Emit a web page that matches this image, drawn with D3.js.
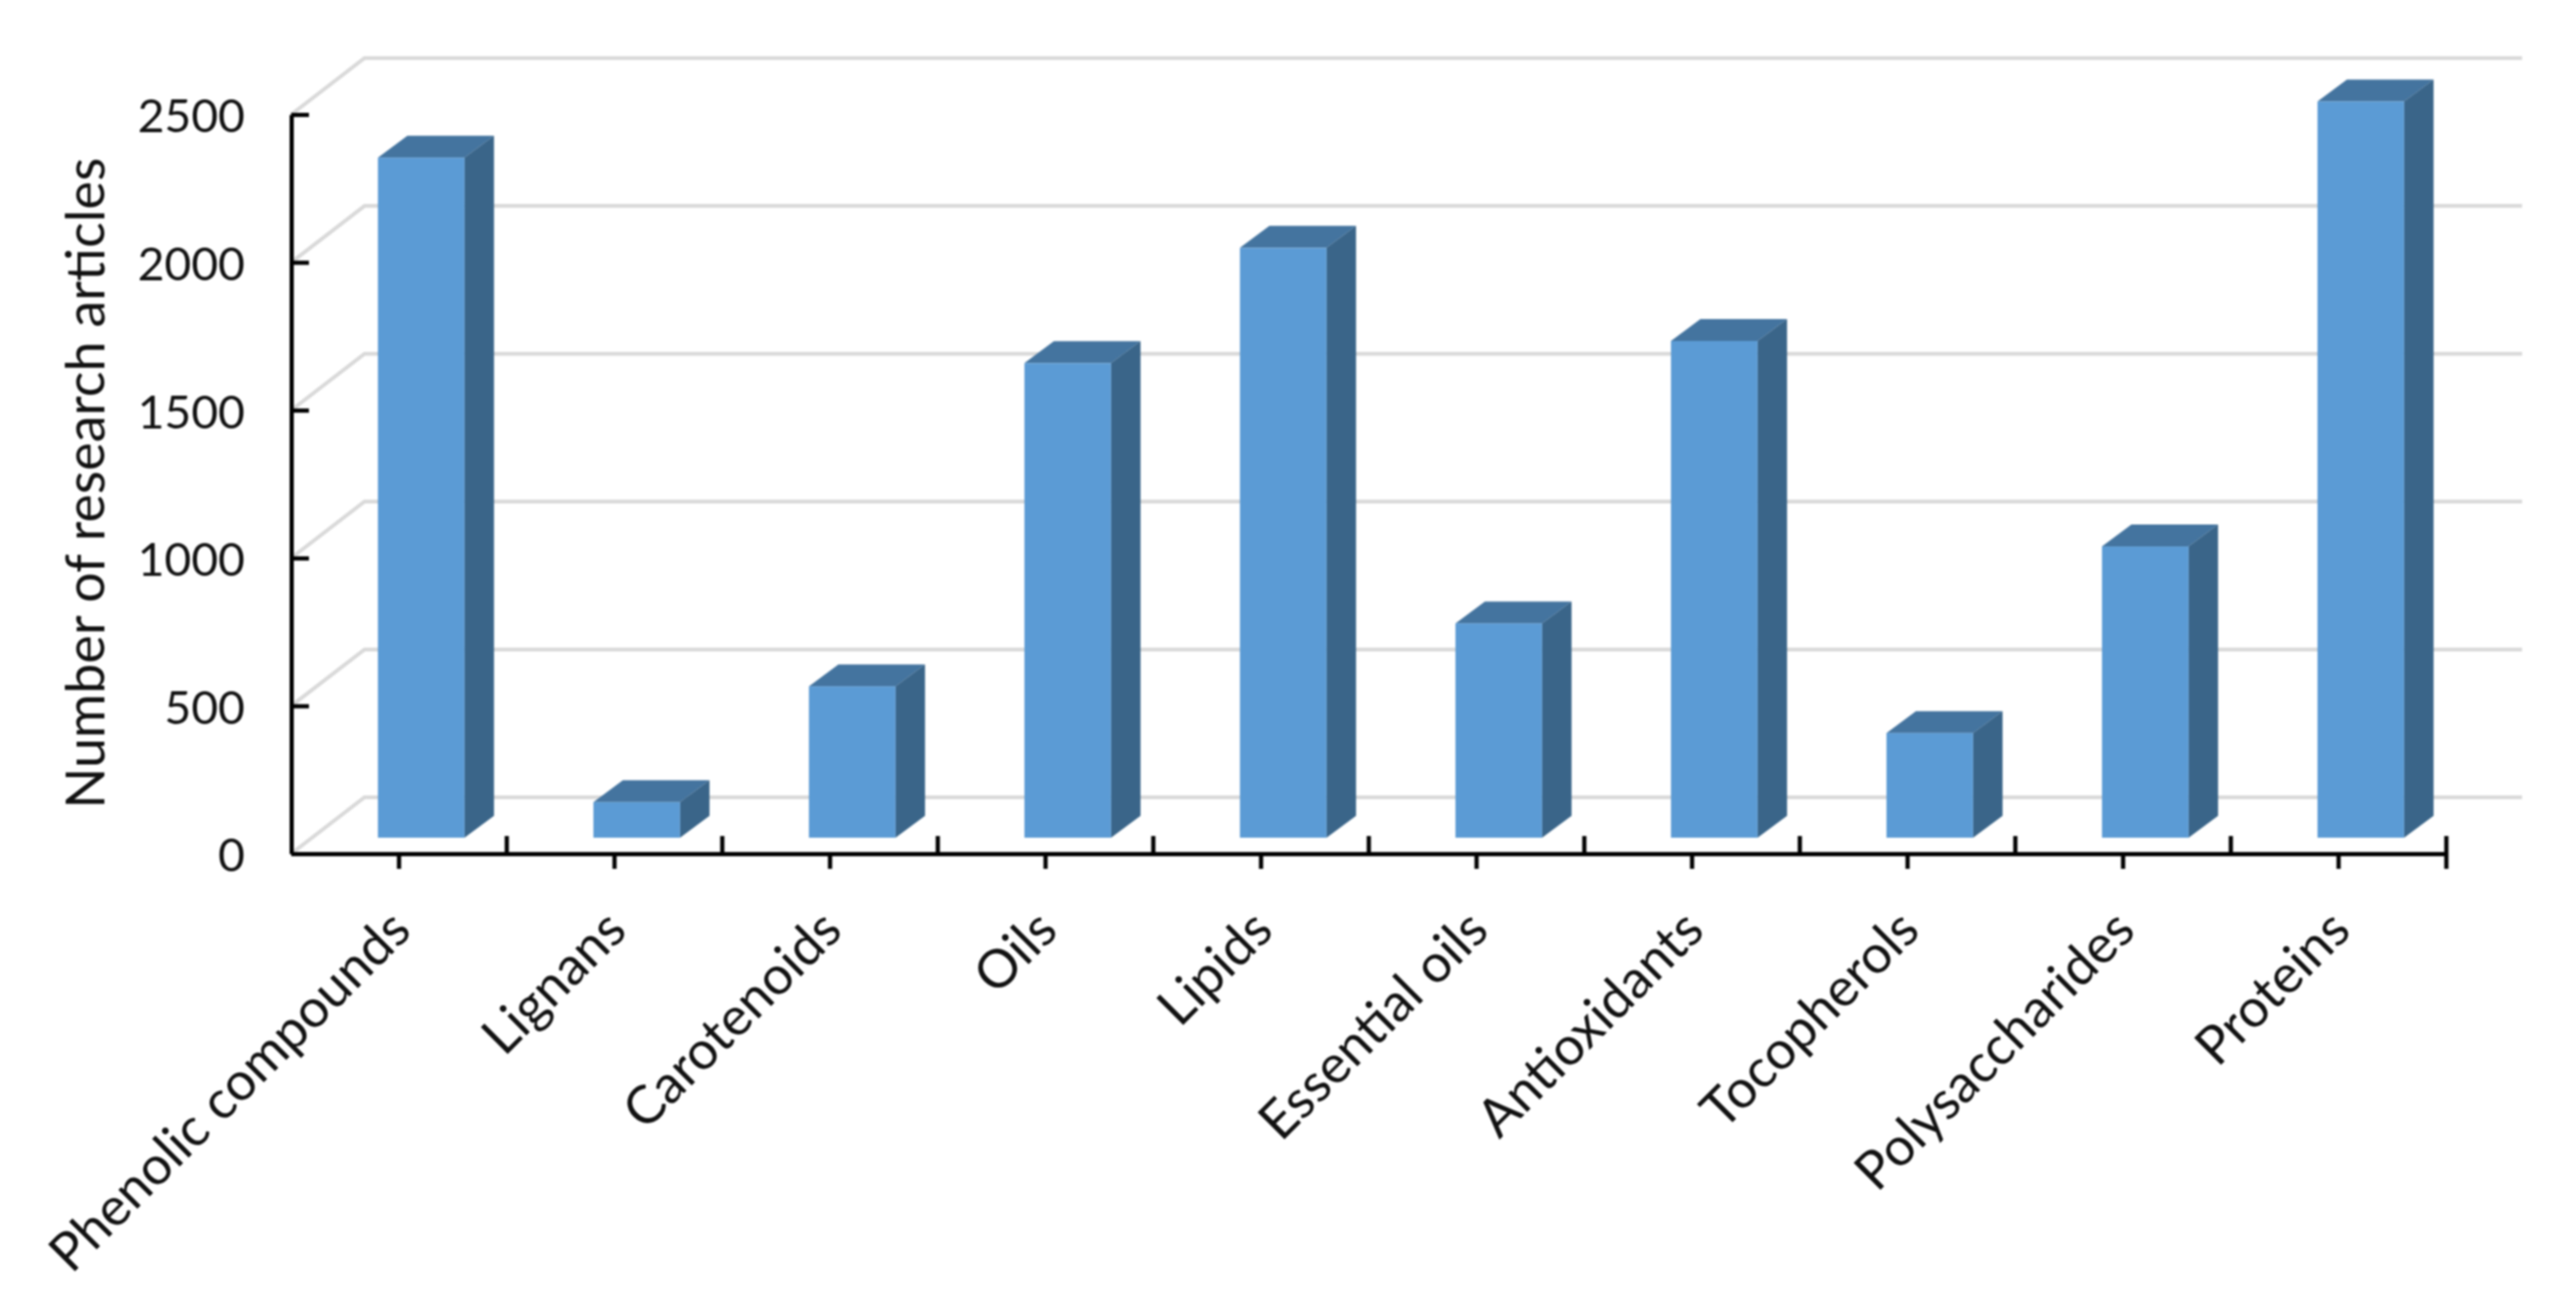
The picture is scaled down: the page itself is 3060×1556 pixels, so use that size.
<!DOCTYPE html>
<meta charset="utf-8">
<style>
html, body { margin: 0; background: #fff; }
svg { display: block; filter: blur(0.8px); }
text { font-family: Lato, "Open Sans", sans-serif; fill: #111; }
.y .tick text { font-size: 55px; }
.x .tick text { font-size: 63px; }
.title { font-size: 64px; }
.grid { stroke: #d9d9d9; stroke-width: 4.5px; fill: none; }
.axis path, .axis line, .edge { stroke: #000; stroke-width: 5px; fill: none; }
</style>
<svg id="chart" width="3060" height="1556"></svg>
<script src="https://cdn.jsdelivr.net/npm/d3@7"></script>
<script>
var categories = ["Phenolic compounds", "Lignans", "Carotenoids", "Oils", "Lipids",
  "Essential oils", "Antioxidants", "Tocopherols", "Polysaccharides", "Proteins"];
var articles = [2300, 120, 512, 1605, 1995, 725, 1680, 354, 985, 2490];
var yTicks = [0, 500, 1000, 1500, 2000, 2500];

var svg = d3.select("#chart");

var x = d3.scaleBand().domain(categories).range([346, 2906]);
var y = d3.scaleLinear().domain([0, 2500]).range([1014, 136]);

// depth of the back wall and of the bars
var wallDx = 87, wallDy = -67, wallEnd = 2996;
var barDx = 35, barDy = -26, barLift = 19;
var barW = x.bandwidth() * 0.402;

// gridlines on the wall, with the slanted bit on the side wall
svg.append("g").selectAll("path").data(yTicks).enter().append("path")
  .attr("class", "grid")
  .attr("d", function(d) {
    return "M" + x.range()[0] + "," + y(d) +
      "L" + (x.range()[0] + wallDx) + "," + (y(d) + wallDy) +
      "H" + wallEnd;
  });

// bars
var bars = svg.append("g").selectAll("g").data(categories).enter().append("g")
  .attr("transform", function(d) {
    return "translate(" + (x(d) + x.bandwidth() * 0.402) + ",0)";
  });

function top_(d, i) { return y(articles[i]) - barLift; }
var base = y(0) - barLift;

bars.append("path").attr("fill", "#44749f")
  .attr("d", function(d, i) {
    var t = top_(d, i);
    return "M0," + t + "l" + barDx + "," + barDy + "h" + barW + "l" + (-barDx) + "," + (-barDy) + "Z";
  });
bars.append("path").attr("fill", "#3a6589")
  .attr("d", function(d, i) {
    var t = top_(d, i);
    return "M" + barW + "," + t + "l" + barDx + "," + barDy + "V" + (base + barDy) + "L" + barW + "," + base + "Z";
  });
bars.append("rect").attr("fill", "#5b9bd5")
  .attr("width", barW)
  .attr("y", function(d, i) { return top_(d, i); })
  .attr("height", function(d, i) { return base - top_(d, i); });

// y axis, ticks point inwards
var yAxis = svg.append("g").attr("class", "axis y")
  .attr("transform", "translate(" + x.range()[0] + ",0)")
  .call(d3.axisLeft(y).tickValues(yTicks).tickFormat(d3.format("d")).tickSize(-21).tickSizeOuter(0).tickPadding(55));
yAxis.selectAll("text").attr("dy", "0.38em");

// x axis, label ticks go down and category boundaries go up
var xAxis = svg.append("g").attr("class", "axis x")
  .attr("transform", "translate(0," + y(0) + ")")
  .call(d3.axisBottom(x).tickSize(18).tickSizeOuter(0));

xAxis.selectAll("text")
  .attr("text-anchor", "end")
  .attr("dy", null)
  .attr("y", 0)
  .attr("transform", "translate(17,94) rotate(-45)");

var edges = categories.map(function(d) { return x(d) + x.bandwidth(); });
svg.append("g").selectAll("line").data(edges).enter().append("line")
  .attr("class", "edge")
  .attr("x1", function(d) { return d; }).attr("x2", function(d) { return d; })
  .attr("y1", y(0) - 21)
  .attr("y2", function(d, i) { return i == edges.length - 1 ? y(0) + 18 : y(0); });

svg.append("text")
  .attr("class", "title")
  .attr("text-anchor", "middle")
  .attr("transform", "translate(124,574) rotate(-90)")
  .text("Number of research articles");
</script>
